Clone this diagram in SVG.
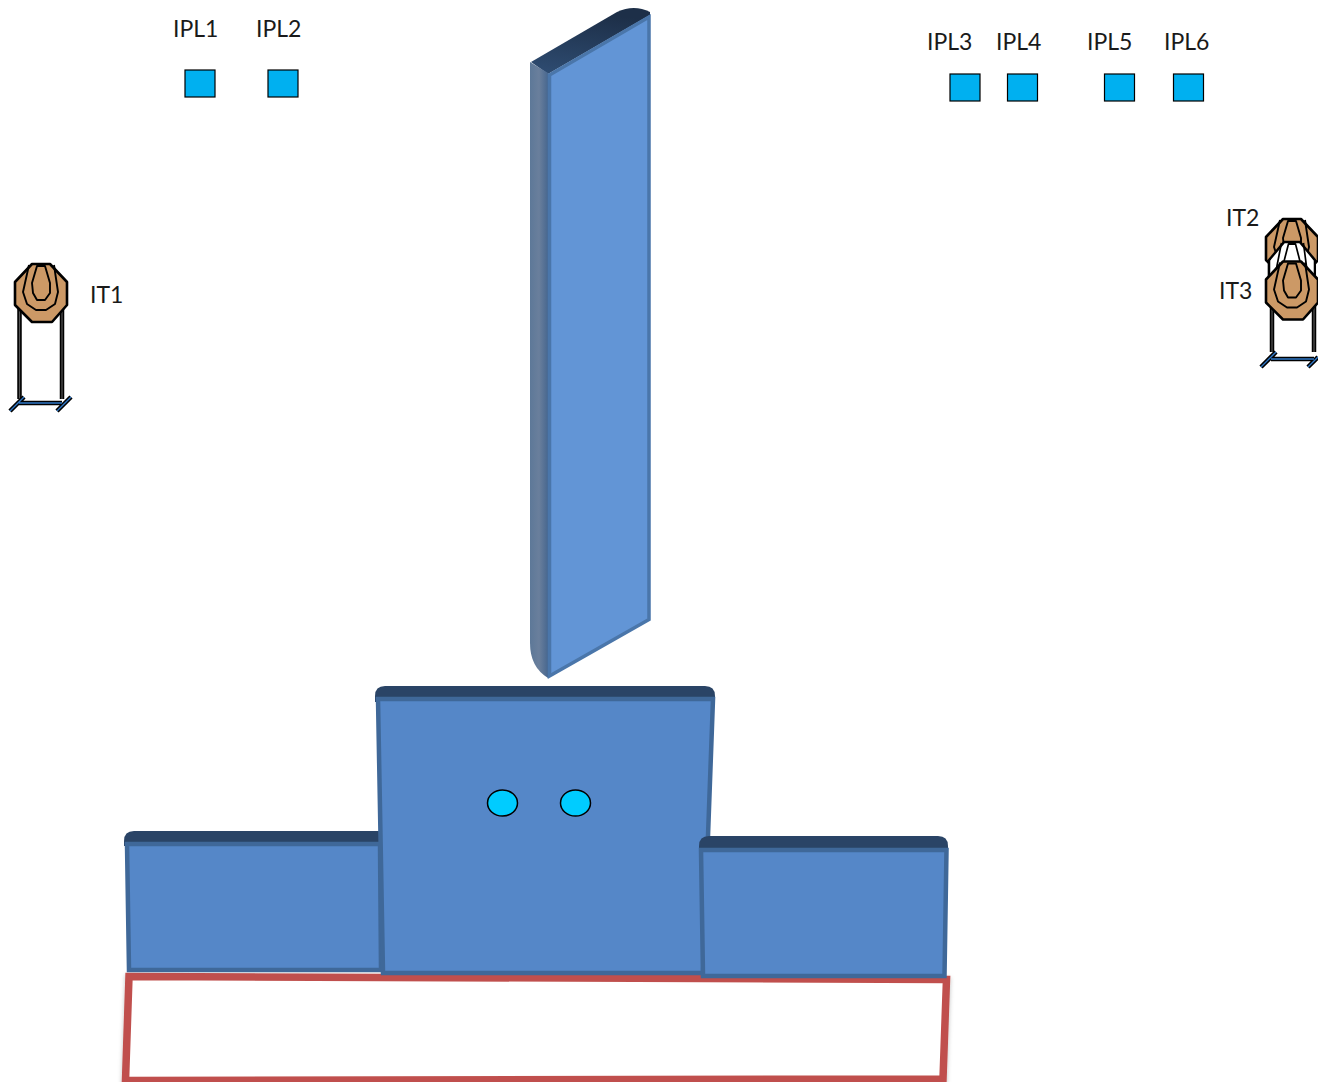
<svg xmlns="http://www.w3.org/2000/svg" width="1318" height="1082" viewBox="0 0 1318 1082">
<style>
text{font-family:"Lato","Liberation Sans",sans-serif;font-size:23px;fill:#1a1a1a}
.pad{fill:#00b0f0;stroke:#000;stroke-width:1.2}
.cam{fill:#00ccff;stroke:#000;stroke-width:1.5}
.face{fill:#5587c8;stroke:#3f6899;stroke-width:4.5}
.band{fill:#2a4466}
.oct{stroke:#000;stroke-width:2.6;stroke-linejoin:round}
.ring{fill:none;stroke:#000;stroke-width:1.9;stroke-linejoin:round}
.post{fill:none;stroke:#000;stroke-width:4.500}
.posti{fill:none;stroke:#555;stroke-width:1.2}
.foot{fill:none;stroke:#000;stroke-width:4.500}
.footi{fill:none;stroke:#2f78c8;stroke-width:1.4}
</style>
<defs>
<linearGradient id="wallTop" x1="0" y1="1" x2="0.25" y2="0"><stop offset="0" stop-color="#2f4d73"/><stop offset="1" stop-color="#1d2f48"/></linearGradient>
<linearGradient id="wallSide" x1="0" y1="0" x2="1" y2="0"><stop offset="0" stop-color="#5d7898"/><stop offset="0.5" stop-color="#6a7f9c"/><stop offset="1" stop-color="#47678f"/></linearGradient>
<filter id="soft" x="-5%" y="-10%" width="110%" height="125%"><feDropShadow dx="0" dy="2" stdDeviation="2" flood-color="#000" flood-opacity="0.25"/></filter>
<g id="rings">
<path class="ring" d="M-12-28-18-1-14 11-5 17 5 17 14 11 17-1 13-28"/>
<path class="ring" d="M-4-27 4-27 9-10 9 0 4 7-4 7-8 0-9-10Z"/>
</g>
<path id="octo" d="M-9-29 9-29 26-11 26 12 11 29-9 29-26 12-26-11Z"/>
</defs>
<g id="wall">
<path d="M531 62 617 12Q634 4 650 12L650 15 548 74Z" fill="url(#wallTop)"/>
<path d="M530 62 548 73 548 678Q530 667 530 643Z" fill="url(#wallSide)"/>
<path d="M549.500 75 649 17 649 619.500 549.500 676Z" fill="#6295d6" stroke="#4a76aa" stroke-width="3.500"/>
</g>
<g id="zone"><path d="M129 976.500 946.500 979.500 943 1079 125.500 1080.500Z" fill="#fff" stroke="#c0504d" stroke-width="7.500" filter="url(#soft)"/></g>
<g id="block-left">
<path class="band" d="M124 846V841Q124 831 134 831H382V846Z"/>
<path class="face" d="M127 844 380 844 381 970 129 970Z"/>
</g>
<g id="block-center">
<path class="band" d="M375 702V696Q375 686 385 686H705Q715 686 715 696V702Z"/>
<path class="face" d="M378 699 713 699 703 973 383 973Z"/>
<ellipse class="cam" cx="502.500" cy="803" rx="15" ry="13"/>
<ellipse class="cam" cx="575.500" cy="803" rx="15" ry="13"/>
</g>
<g id="block-right">
<path class="band" d="M699 852V846Q699 836 709 836H938Q948 836 948 846V852Z"/>
<path class="face" d="M701 850 946.500 850 944.500 976 703 976Z"/>
</g>
<g id="ipl1"><rect class="pad" x="185" y="70" width="30" height="27"/><text x="173" y="37">IPL1</text></g>
<g id="ipl2"><rect class="pad" x="268" y="70" width="30" height="27"/><text x="256" y="37">IPL2</text></g>
<g id="ipl3"><rect class="pad" x="950" y="74" width="30" height="27"/><text x="927" y="50">IPL3</text></g>
<g id="ipl4"><rect class="pad" x="1007.500" y="74" width="30" height="27"/><text x="996" y="50">IPL4</text></g>
<g id="ipl5"><rect class="pad" x="1104.500" y="74" width="30" height="27"/><text x="1087" y="50">IPL5</text></g>
<g id="ipl6"><rect class="pad" x="1173.500" y="74" width="30" height="27"/><text x="1164" y="50">IPL6</text></g>
<g id="it1">
<path class="post" d="M19.500 300V399M62 300V399"/>
<path class="posti" d="M19.500 300V399M62 300V399"/>
<path class="foot" d="M10 411 24 397M57 411 71 397M19 403H62"/>
<path class="footi" d="M10 411 24 397M57 411 71 397M19 403H62"/>
<g transform="translate(41 293)"><use href="#octo" class="oct" fill="#cc9966"/><use href="#rings"/></g>
<text x="90" y="303">IT1</text>
</g>
<g id="it2">
<g transform="translate(1292 248)"><use href="#octo" class="oct" fill="#cc9966"/><use href="#rings"/></g>
<path class="oct" d="M1269 262V300M1314 262V300" fill="none"/>
<g transform="translate(1292 271) scale(.88 1)"><use href="#octo" class="oct" fill="#fff"/><use href="#rings"/></g>
<text x="1226" y="226">IT2</text>
</g>
<g id="it3">
<path class="post" d="M1272 298V352M1314 298V352"/>
<path class="posti" d="M1272 298V352M1314 298V352"/>
<path class="foot" d="M1261 367 1276 352M1308 367 1318 357M1271 359H1314"/>
<path class="footi" d="M1261 367 1276 352M1308 367 1318 357M1271 359H1314"/>
<g transform="translate(1292 290.500)"><use href="#octo" class="oct" fill="#cc9966"/><use href="#rings"/></g>
<text x="1219" y="299">IT3</text>
</g>
</svg>
